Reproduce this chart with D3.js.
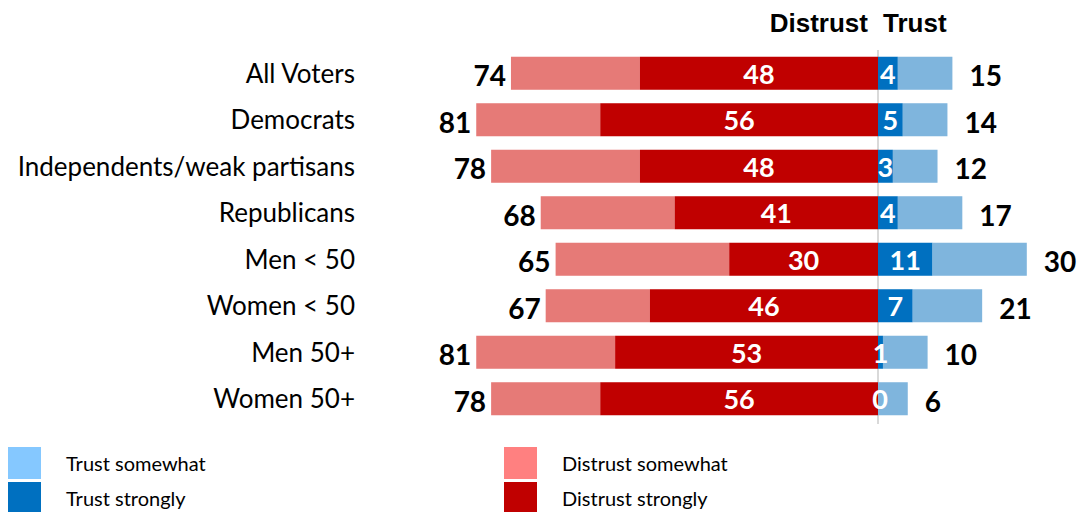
<!DOCTYPE html>
<html>
<head>
<meta charset="utf-8">
<script src="https://cdn.jsdelivr.net/npm/d3@7"></script>
<style>
  body { margin: 0; background: #fff; }
  svg { font-family: Lato, "Open Sans", sans-serif; }
</style>
</head>
<body>
<svg id="chart" width="1081" height="512"></svg>
<script>
// data
const groups = ["All Voters", "Democrats", "Independents/weak partisans", "Republicans",
  "Men < 50", "Women < 50", "Men 50+", "Women 50+"];
const distrustStrongly = [48, 56, 48, 41, 30, 46, 53, 56];
const distrustTotal = [74, 81, 78, 68, 65, 67, 81, 78];
const trustStrongly = [4, 5, 3, 4, 11, 7, 1, 0];
const trustTotal = [15, 14, 12, 17, 30, 21, 10, 6];

const colors = {
  trustSome: "#7fb5dd", trustStrong: "#0070c0",
  distrustSome: "#e67a77", distrustStrong: "#c00000",
  legTrustSome: "#85c8ff", legDistrustSome: "#ff8080"
};

const svg = d3.select("#chart");
const center = 878;

// one unit ~ 4.96px
const x = d3.scaleLinear().domain([-81, 30]).range([center - 81 * 4.96, center + 30 * 4.96]);

const y = d3.scaleBand()
  .domain(groups)
  .range([50, 422])
  .paddingInner(0.29)
  .paddingOuter(0.145);

const rows = groups.map((g, i) => ({
  group: g,
  ds: distrustStrongly[i], dt: distrustTotal[i],
  ts: trustStrongly[i], tt: trustTotal[i]
}));

// center line
svg.append("line")
  .attr("x1", x(0)).attr("x2", x(0))
  .attr("y1", 50).attr("y2", 424)
  .attr("stroke", "#d9d9d9").attr("stroke-width", 2);

const row = svg.selectAll(".row")
  .data(rows)
  .enter().append("g")
  .attr("class", "row")
  .attr("transform", d => `translate(0, ${y(d.group)})`);

const bh = y.bandwidth();

// distrust somewhat (outer part)
row.append("rect")
  .attr("x", d => x(-d.dt))
  .attr("width", d => x(-d.ds) - x(-d.dt))
  .attr("height", bh)
  .attr("fill", colors.distrustSome);

// distrust strongly
row.append("rect")
  .attr("x", d => x(-d.ds))
  .attr("width", d => x(0) - x(-d.ds))
  .attr("height", bh)
  .attr("fill", colors.distrustStrong);

// trust strongly
row.append("rect")
  .attr("x", x(0))
  .attr("width", d => x(d.ts) - x(0))
  .attr("height", bh)
  .attr("fill", colors.trustStrong);

// trust somewhat
row.append("rect")
  .attr("x", d => x(d.ts))
  .attr("width", d => x(d.tt) - x(d.ts))
  .attr("height", bh)
  .attr("fill", colors.trustSome);

// segment labels
row.append("text")
  .attr("x", d => (x(-d.ds) + x(0)) / 2)
  .attr("y", bh / 2 + 1)
  .attr("dy", "0.36em")
  .attr("text-anchor", "middle")
  .attr("fill", "#fff")
  .style("font-weight", "bold")
  .style("font-size", "27px")
  .text(d => d.ds);

row.append("text")
  .attr("x", d => Math.max((x(0) + x(d.ts)) / 2, x(0) + 2))
  .attr("y", bh / 2 + 1)
  .attr("dy", "0.36em")
  .attr("text-anchor", "middle")
  .attr("fill", "#fff")
  .style("font-weight", "bold")
  .style("font-size", "27px")
  .text(d => d.ts);

// totals
row.append("text")
  .attr("x", d => x(-d.dt) - 5)
  .attr("y", bh / 2 + 3)
  .attr("dy", "0.36em")
  .attr("text-anchor", "end")
  .style("font-weight", "bold")
  .style("font-size", "28px")
  .text(d => d.dt);

row.append("text")
  .attr("x", d => x(d.tt) + 17)
  .attr("y", bh / 2 + 3)
  .attr("dy", "0.36em")
  .style("font-weight", "bold")
  .style("font-size", "28px")
  .text(d => d.tt);

// group names
row.append("text")
  .attr("x", 355)
  .attr("y", bh / 2)
  .attr("dy", "0.36em")
  .attr("text-anchor", "end")
  .style("font-size", "26px")
  .text(d => d.group);

// header
svg.append("text")
  .attr("x", x(0) - 10).attr("y", 32)
  .attr("text-anchor", "end")
  .style("font-family", "'Liberation Sans', Arial, sans-serif")
  .style("font-weight", "bold").style("font-size", "26px")
  .text("Distrust");
svg.append("text")
  .attr("x", x(0) + 5).attr("y", 32)
  .style("font-family", "'Liberation Sans', Arial, sans-serif")
  .style("font-weight", "bold").style("font-size", "26px")
  .text("Trust");

// legend
const legend = [
  { label: "Trust somewhat", color: colors.legTrustSome, x: 8, y: 447 },
  { label: "Trust strongly", color: colors.trustStrong, x: 8, y: 482 },
  { label: "Distrust somewhat", color: colors.legDistrustSome, x: 504, y: 447 },
  { label: "Distrust strongly", color: colors.distrustStrong, x: 504, y: 482 }
];
const lg = svg.selectAll(".leg").data(legend).enter().append("g")
  .attr("class", "leg")
  .attr("transform", d => `translate(${d.x}, ${d.y})`);
lg.append("rect").attr("width", 33).attr("height", 32).attr("fill", d => d.color);
lg.append("text")
  .attr("x", 58).attr("y", 17).attr("dy", "0.36em")
  .style("font-size", "20px")
  .text(d => d.label);
</script>
</body>
</html>
